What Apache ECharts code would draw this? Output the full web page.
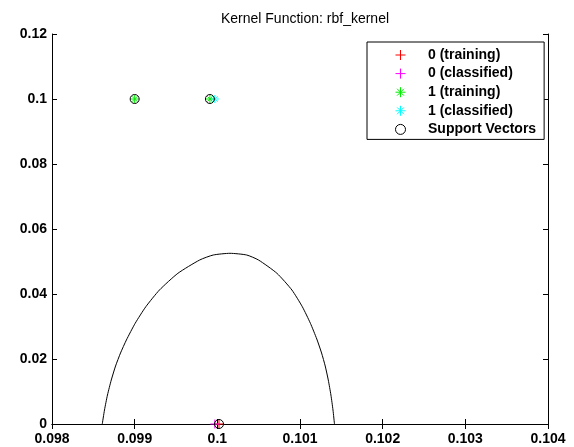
<!DOCTYPE html>
<html>
<head>
<meta charset="utf-8">
<script src="https://cdn.jsdelivr.net/npm/echarts@6/dist/echarts.min.js"></script>
<style>html,body{margin:0;padding:0;background:#fff;}#c{width:574px;height:447px;}</style>
</head>
<body>
<div id="c"></div>
<script>
// ---- data ----
const titleText = 'Kernel Function: rbf_kernel';
const seriesNames = ['0 (training)', '0 (classified)', '1 (training)', '1 (classified)', 'Support Vectors'];
const train0 = [[0.10002, 0]];
const classified0 = [[0.09997, 0]];
const train1 = [[0.0990, 0.1], [0.09991, 0.1]];
const classified1 = [[0.09997, 0.1]];
const supportVectors = [[0.0990, 0.1], [0.09991, 0.1], [0.10002, 0]];
const boundary = [
  [0.098608, 0], [0.098635, 0.00431], [0.098671, 0.00892], [0.098717, 0.01354], [0.098769, 0.01785],
  [0.098829, 0.02185], [0.098900, 0.02585], [0.099006, 0.03098], [0.099135, 0.03609], [0.099300, 0.04123],
  [0.099523, 0.04637], [0.099786, 0.05046], [0.099951, 0.05200], [0.100153, 0.05252],
  [0.100355, 0.05200], [0.100498, 0.05046], [0.100721, 0.04637], [0.100902, 0.04123], [0.101028, 0.03609],
  [0.101126, 0.03098], [0.101203, 0.02615], [0.101261, 0.02185], [0.101305, 0.01785], [0.101342, 0.01354],
  [0.101374, 0.00892], [0.101399, 0.00431], [0.101417, 0]
];
const xMin = 0.098, xMax = 0.104, xStep = 0.001;
const yMin = 0, yMax = 0.12, yStep = 0.02;

// ---- chart ----
const plusPath = 'path://M5,0L5,10M0,5L10,5';
const starPath = 'path://M5,0L5,10M0,5L10,5M1.6,1.6L8.4,8.4M8.4,1.6L1.6,8.4';
const font = 'Liberation Sans, Arial, sans-serif';
const chart = echarts.init(document.getElementById('c'));
const axisCommon = {
  axisLine: {show: true, lineStyle: {color: '#000', width: 1}},
  axisTick: {show: true, inside: true, length: 5, lineStyle: {color: '#000'}},
  splitLine: {show: false}
};
function markSeries(name, data, symbol, color, size) {
  return {
    name: name, type: 'scatter', data: data, symbol: symbol, symbolSize: size,
    itemStyle: {color: 'rgba(0,0,0,0)', borderColor: color, borderWidth: 1, opacity: 1},
    emphasis: {disabled: true}
  };
}
chart.setOption({
  animation: false,
  backgroundColor: '#fff',
  title: {
    text: titleText, left: 300, top: 7, textAlign: 'center',
    textStyle: {fontFamily: font, fontSize: 14, fontWeight: 'normal', color: '#000'}
  },
  grid: {left: 52, right: 26, top: 34, bottom: 23, containLabel: false},
  legend: {
    data: seriesNames,
    orient: 'vertical', left: 367, top: 42,
    padding: [6, 8, 3, 28],
    itemGap: 4.6, itemWidth: 13, itemHeight: 10,
    itemStyle: {borderWidth: 1},
    backgroundColor: '#fff', borderColor: '#000', borderWidth: 1,
    textStyle: {fontFamily: font, fontSize: 14, fontWeight: 'bold', color: '#000', padding: [0, 0, 0, 16]},
    selectedMode: false
  },
  xAxis: [
    Object.assign({type: 'value', min: xMin, max: xMax, interval: xStep, position: 'bottom',
      axisLabel: {margin: 8, color: '#000', fontFamily: font, fontSize: 14, fontWeight: 'bold'}}, axisCommon),
    Object.assign({type: 'value', min: xMin, max: xMax, interval: xStep, position: 'top',
      axisLabel: {show: false}}, axisCommon)
  ],
  yAxis: [
    Object.assign({type: 'value', min: yMin, max: yMax, interval: yStep, position: 'left',
      axisLabel: {margin: 5, color: '#000', fontFamily: font, fontSize: 14, fontWeight: 'bold'}}, axisCommon),
    Object.assign({type: 'value', min: yMin, max: yMax, interval: yStep, position: 'right',
      axisLabel: {show: false}}, axisCommon)
  ],
  series: [
    {
      name: 'boundary', type: 'line', data: boundary, smooth: 0.2, showSymbol: false, symbol: 'none',
      lineStyle: {color: '#000', width: 1}, emphasis: {disabled: true}
    },
    markSeries(seriesNames[0], train0, plusPath, '#ff0000', 9),
    markSeries(seriesNames[1], classified0, plusPath, '#ff00ff', 9),
    markSeries(seriesNames[2], train1, starPath, '#00ee00', 8),
    markSeries(seriesNames[3], classified1, starPath, '#00ffff', 8),
    markSeries(seriesNames[4], supportVectors, 'circle', '#000', 9)
  ]
});
</script>
</body>
</html>
